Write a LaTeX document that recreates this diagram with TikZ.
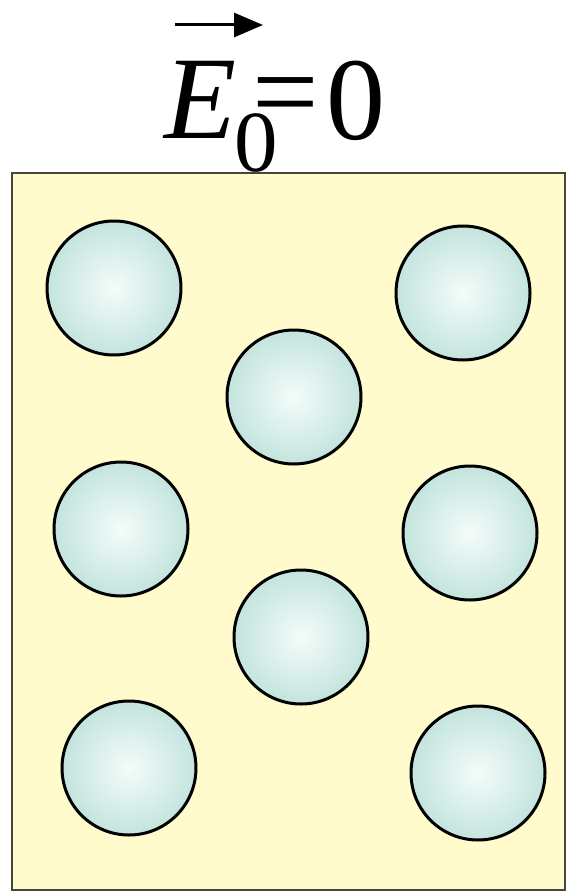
\documentclass[tikz,border=0pt]{standalone}
\usepackage{fontspec}
\newfontfamily\tnr{Liberation Serif}
\usetikzlibrary{arrows.meta}
\definecolor{cream}{RGB}{255,251,204}
\definecolor{ballin}{RGB}{244,252,250}
\definecolor{ballout}{RGB}{196,228,222}
\definecolor{frame}{RGB}{70,70,60}
\begin{document}
\begin{tikzpicture}[x=1pt,y=-1pt,
  ball/.style={draw=black,line width=3pt,inner color=ballin,outer color=ballout},
  glyph/.style={inner sep=0pt,outer sep=0pt}]
\useasboundingbox (0,0) rectangle (565,891);
\node[draw=frame,line width=1.8pt,fill=cream,minimum width=553pt,minimum height=717pt,anchor=north west,inner sep=0pt] (box) at (11,172) {};
% title
\node[glyph,anchor=base,font=\tnr\fontsize{118}{118}\selectfont\itshape] (E) at (201,138) {E};
\node[glyph,anchor=base,font=\tnr\fontsize{87}{87}\selectfont] (sub) at (256,171) {0};
\node[glyph,anchor=base,font=\tnr\fontsize{118}{118}\selectfont] (eq) at (286,131) {=};
\node[glyph,anchor=base,font=\tnr\fontsize{118}{118}\selectfont] (zero) at (356,139) {0};
\coordinate (a1) at (175,25);
\coordinate (a2) at (263,25);
\draw[line width=3pt,-{Triangle[length=29pt,width=24pt]}] (a1) -- (a2);
% balls
\foreach \n/\x/\y in {b1/114/288, b2/463/293, b3/294/397, b4/121/529, b5/470/533, b6/301/637, b7/129/768, b8/478/773}
  \node[ball,circle,minimum size=134pt,inner sep=0pt] (\n) at (\x,\y) {};
\end{tikzpicture}
\end{document}
